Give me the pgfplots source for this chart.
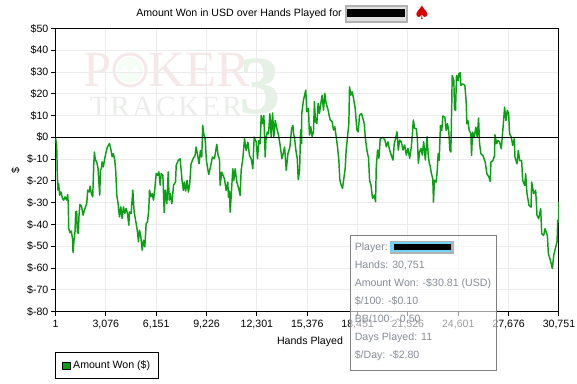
\documentclass[border=0pt]{standalone}
\usepackage{pgfplots}
\pgfplotsset{compat=1.18}
\usepackage{fontspec}
\setmainfont{Liberation Sans}
\newfontfamily\serifwm{Liberation Serif}
\newfontfamily\dejavu{DejaVu Sans}
\definecolor{gline}{RGB}{10,160,20}
\definecolor{gridc}{RGB}{236,236,236}
\definecolor{tipc}{RGB}{135,140,150}
\definecolor{wmred}{RGB}{246,232,232}
\definecolor{wmgrey}{RGB}{234,237,234}
\definecolor{wmgreen}{RGB}{228,241,228}
\newcommand{\fs}{\fontsize{7.95pt}{10pt}\selectfont}
\begin{document}
\begin{tikzpicture}
\useasboundingbox (-41.625pt,-54.225pt) rectangle (391.125pt,233.775pt);
\begin{scope}[x=.75pt,y=.75pt]
% watermark, in picture pixels measured from the lower left corner of the plot
\node[text=wmred,font=\serifwm\fontsize{38pt}{38pt}\selectfont,anchor=base west,inner xsep=0pt] at (27.5,224.7) {P};
\node[text=wmred,font=\serifwm\fontsize{38pt}{38pt}\selectfont,anchor=base east,inner xsep=0pt] at (195,224.7) {KER};
\fill[wmred] (74.5,241.7) circle (17.5);
\fill[white] (74.5,241.7) circle (14.5);
\fill[black!7!green!4!white] (74.5,241.7) circle (13);
\node[text=white,font=\dejavu\fontsize{9pt}{9pt}\selectfont] at (74.5,241.7) {♣♣};
\node[text=wmgrey,font=\serifwm\fontsize{22pt}{22pt}\selectfont,anchor=base] at (110.5,194.7) {T\hspace{1.9pt}R\hspace{1.9pt}A\hspace{1.9pt}C\hspace{1.9pt}K\hspace{1.9pt}E\hspace{1.9pt}R};
\node[text=wmgreen,font=\serifwm\bfseries\fontsize{62pt}{62pt}\selectfont,anchor=base] at (205,198) {3};
\end{scope}
\begin{axis}[
  scale only axis, width=377.6pt, height=212.4pt,
  xmin=1, xmax=30751, ymin=-80, ymax=50,
  scaled x ticks=false, scaled y ticks=false,
  xtick={1,3076,6151,9226,12301,15376,18451,21526,24601,27676,30751},
  xticklabels={1,{3,076},{6,151},{9,226},{12,301},{15,376},{18,451},{21,526},{24,601},{27,676},{30,751}},
  ytick={-80,-70,...,50},
  yticklabels={\$-80,\$-70,\$-60,\$-50,\$-40,\$-30,\$-20,\$-10,\$0,\$10,\$20,\$30,\$40,\$50},
  tick align=outside, tick pos=left, major tick length=3pt,
  grid=major, grid style={gridc,line width=.75pt},
  tick style={black,line width=.75pt}, axis line style={black,line width=.75pt},
  tick label style={font=\fs},
  xticklabel style={yshift=0.5pt}, yticklabel style={xshift=1.2pt},
  xlabel={Hands Played}, ylabel={\$},
  label style={font=\fs},
  xlabel style={at={(axis description cs:0.5055,-0.0),anchor=north},yshift=-15pt},
  ylabel style={at={(axis description cs:-0.0616,0.497),anchor=south}},
  legend style={at={(axis description cs:0,-0.144)},anchor=north west,draw=black,line width=.75pt,
    font=\fs,inner xsep=4.4pt,inner ysep=4pt,/tikz/every even column/.append style={column sep=2pt}},
  legend image code/.code={\fill[gline,draw=black,line width=.5pt] (0pt,-2.8pt) rectangle (6pt,3pt);},
  clip=true,
]
\addplot[gline,line width=1.1pt,line join=round] coordinates {
(1,0)(71,-3.6)(92,-9.7)(112,-17.4)(153,-24.2)(194,-21.2)(255,-26.5)(337,-25)(418,-27.8)(500,-28.8)(581,-27.3)(683,-28.8)(745,-26.2)(785,-31.1)(806,-41.8)(887,-43.7)(969,-43)(1051,-47.2)(1071,-52.8)(1132,-47.2)(1193,-43.3)(1234,-34.2)(1295,-33.9)(1336,-43.3)(1397,-44.1)(1438,-35.7)(1499,-30.7)(1601,-31.9)(1683,-35.7)(1765,-33.4)(1907,-30.4)(1969,-24.2)(2071,-25)(2111,-22.4)(2193,-25.8)(2275,-27.3)(2336,-12.8)(2377,-6.7)(2438,-10.5)(2519,-11.2)(2601,-14.3)(2662,-21.9)(2703,-26.5)(2744,-15.1)(2805,-14.3)(2846,-11.2)(2927,-13.5)(2989,-10.5)(3070,-7.4)(3172,-4.4)(3295,-2.8)(3376,-5.1)(3458,-8.9)(3540,-7.4)(3621,-10.5)(3683,-15.8)(3744,-26.5)(3825,-30.4)(3907,-36.5)(3988,-31.9)(4070,-37.2)(4151,-31.9)(4233,-34.9)(4315,-32.6)(4396,-34.9)(4478,-40.3)(4519,-34.2)(4621,-34.9)(4723,-24.2)(4804,-34.2)(4927,-39.5)(5008,-43.3)(5069,-47.9)(5131,-42.6)(5212,-45.6)(5294,-51.8)(5375,-47.2)(5457,-50.2)(5539,-39.5)(5620,-38.8)(5702,-32.6)(5743,-24.2)(5824,-27.3)(5906,-25.8)(5987,-28.8)(6069,-23.5)(6151,-16.6)(6232,-17.4)(6314,-15.8)(6395,-21.9)(6456,-16.6)(6558,-17.4)(6640,-34.5)(6701,-24.2)(6803,-30.4)(6885,-15.8)(6946,-28.8)(7007,-25.8)(7109,-30.4)(7211,-21.9)(7333,-20.4)(7374,-12.8)(7497,-10.5)(7607,-9.8)
(7668,-14.4)(7729,-19.7)(7811,-24.3)(7872,-20.5)(7954,-24.6)(8035,-19.7)(8117,-25.1)(8199,-21.3)(8280,-12.1)(8403,-9.8)(8525,-8.3)(8586,-4.4)(8668,-7.5)(8770,-12.1)(8851,-6)(8933,-9)(8994,5.5)(9055,1.7)(9137,-0.6)(9219,-10.6)(9300,-14.4)(9361,-17)(9463,-13.6)(9586,-9)(9708,-9.8)(9851,-3.2)(9933,-8.3)(10014,-9.8)(10055,-22)(10157,-15.9)(10320,-19)(10422,-24.3)(10524,-20.5)(10565,-27.4)(10626,-24.6)(10667,-34.3)(10728,-27.4)(10830,-14.4)(10891,-19.7)(10973,-14.4)(11075,-20.5)(11177,-23.1)(11279,-26.6)(11340,-15.1)(11442,-9.8)(11544,-0.6)(11646,-6)(11748,-2.1)(11850,-8.3)(11952,-9.8)(12054,-14.4)(12135,0.2)(12258,-2.1)(12340,-9.8)(12421,-1.4)(12503,-2.9)(12564,10.1)(12646,6.3)(12727,10.1)(12809,-9)(12850,-1.4)(12931,2.4)(13013,1.7)(13095,10.9)(13176,0.2)(13258,11.2)(13339,0.2)(13421,7.8)(13503,4.7)(13625,0.9)(13707,-2.9)(13829,-9.8)(13931,-6.7)(13992,-4.4)(14094,-15.1)(14196,-7.5)(14319,-4.4)(14421,4)(14502,5.5)(14543,1.7)(14604,-0.6)(14686,-6)(14767,-9.8)(14828,-19.4)(14910,-15.1)(14971,3.5)(15033,-2.9)
(15042,11)(15144,17.1)(15287,21.7)(15348,11.8)(15450,13.3)(15511,1.1)(15593,4.9)(15674,0.3)(15756,2.6)(15817,16.4)(15878,7.2)(15960,6.4)(16042,15.6)(16123,11)(16205,15.6)(16286,19.4)(16368,12.5)(16450,20.2)(16531,15.6)(16654,12.5)(16776,8)(16898,7.2)(16980,3.4)(17062,4.9)(17143,0.3)(17225,-4.3)(17306,-10.4)(17368,-19.6)(17449,-21.9)(17531,-23.4)(17612,-18.8)(17694,-14.2)(17755,-5.8)(17837,0.3)(17918,6.4)(17959,23.2)(18041,19.4)(18122,20.9)(18204,17.9)(18306,13.3)(18408,3.4)(18490,2.6)(18571,10.2)(18694,11)(18775,8.7)(18857,6.4)(18918,0.3)(19020,-5.8)(19122,-9.6)(19183,-19.6)(19265,-21.9)(19367,-28)(19469,-26.5)(19551,-29.5)(19591,-13.5)(19673,-5.8)(19754,-9.6)(19836,-0.5)(19999,0)(20122,-1.2)(20203,-4.3)(20305,-2)(20407,-5.8)(20509,-8.1)(20611,-10.4)(20693,-2.8)(20774,-0.5)(20856,2.6)(20938,-5.8)(21019,-1.2)(21121,-2)(21223,-5.8)(21325,-3.5)(21427,-8.1)(21529,-5)(21631,-9.6)(21733,-4.3)(21794,1.1)(21856,8)(21937,4.1)(22039,4.1)(22100,-0.5)(22162,-11.9)(22243,-6.6)(22325,-5)(22406,-8.1)(22488,-2)(22590,-10.4)(22692,0.3)(22774,-8.9)(22855,-12.7)
(22882,-12.8)(22943,-15.9)(23045,-19)(23086,-29.7)(23147,-19.7)(23249,-20.5)(23310,-15.9)(23372,-7.5)(23433,-10.6)(23514,5.5)(23596,3.2)(23657,9.8)(23780,9.3)(23861,3.2)(23943,6.3)(24024,2.4)(24086,-6)(24147,-6.7)(24208,17.7)(24228,28.4)(24330,26.1)(24371,13.1)(24432,12.4)(24494,28.4)(24596,26.1)(24636,29.2)(24718,29.7)(24759,23.9)(24881,24.6)(25004,23.9)(25085,16.2)(25126,6.3)(25187,7.8)(25269,3.2)(25371,1.7)(25412,-8.3)(25473,2.4)(25575,0.2)(25677,4.7)(25758,0.2)(25840,8.9)(25901,-2.9)(25983,-7.5)(26105,-8.3)(26248,-11.3)(26350,-16.7)(26472,-18.2)(26554,-20.2)(26595,-11.3)(26717,-10.6)(26819,-8.3)(26840,1.2)(26942,-2.9)(27023,-1.4)(27125,-2.1)(27227,-5.2)(27329,4)(27431,13.9)(27513,7.8)(27594,12.4)(27676,10.9)(27737,1.7)(27839,0.2)(27921,-3.7)(28023,-0.6)(28064,-9)(28186,-12.1)(28268,-6)(28349,-10.6)(28472,-10.6)(28533,-19.7)(28655,-22)(28716,-16.7)(28798,-25.8)(28920,-31.2)(29043,-32)(29084,-20.5)(29206,-25.8)(29328,-24.3)(29410,-35.8)(29512,-37.3)(29635,-32.7)(29696,-44.2)(29818,-45)(29900,-41.9)(30042,-45)(30103,-53.4)(30226,-56.4)(30348,-60.2)(30430,-54.1)(30552,-50.3)(30634,-48)(30675,-38)(30736,-38.8)(30751,-29.7)
};
\addlegendentry{Amount Won (\$)}
\addplot[black,line width=.75pt,forget plot] coordinates {(1,0)(30751,0)};
\end{axis}
\begin{scope}[x=.75pt,y=.75pt,shift={(-55.5,-72.3)}]
% px,py -> (px, 384-py)
\node[font=\fs,anchor=base] at (239,384-17) {Amount Won in USD over Hands Played for};
\fill[black!30] (345,384-23) rectangle (408,384-5);
\fill[black!12] (347,384-21.5) rectangle (406,384-7);
\fill[black] (347,384-17) rectangle (405,384-9);
\node[text=red!85!black,font=\dejavu\fontsize{14pt}{14pt}\selectfont] at (422,384-13) {♠};
% tooltip
\fill[white,opacity=.62] (350.3,384-235.3) rectangle (496.3,384-370.3);
\draw[black!50,line width=.75pt] (350.3,384-235.3) rectangle (496.3,384-370.3);
\fill[black!30] (390,384-254) rectangle (454,384-241);
\fill[cyan!55!white] (390,384-252) rectangle (451,384-242);
\fill[black] (394,384-250) rectangle (451,384-244);
\foreach \yy/\tt in {251/{Player:},269/{Hands: 30,751},287/{Amount Won: -\$30.81 (USD)},305/{\$/100: -\$0.10},323/{BB/100: -0.50},341/{Days Played: 11},359/{\$/Day: -\$2.80}}
  \node[text=tipc,font=\fs,anchor=base west,inner xsep=0pt] at (354.5,384-\yy) {\tt};
\end{scope}
\end{tikzpicture}
\end{document}
